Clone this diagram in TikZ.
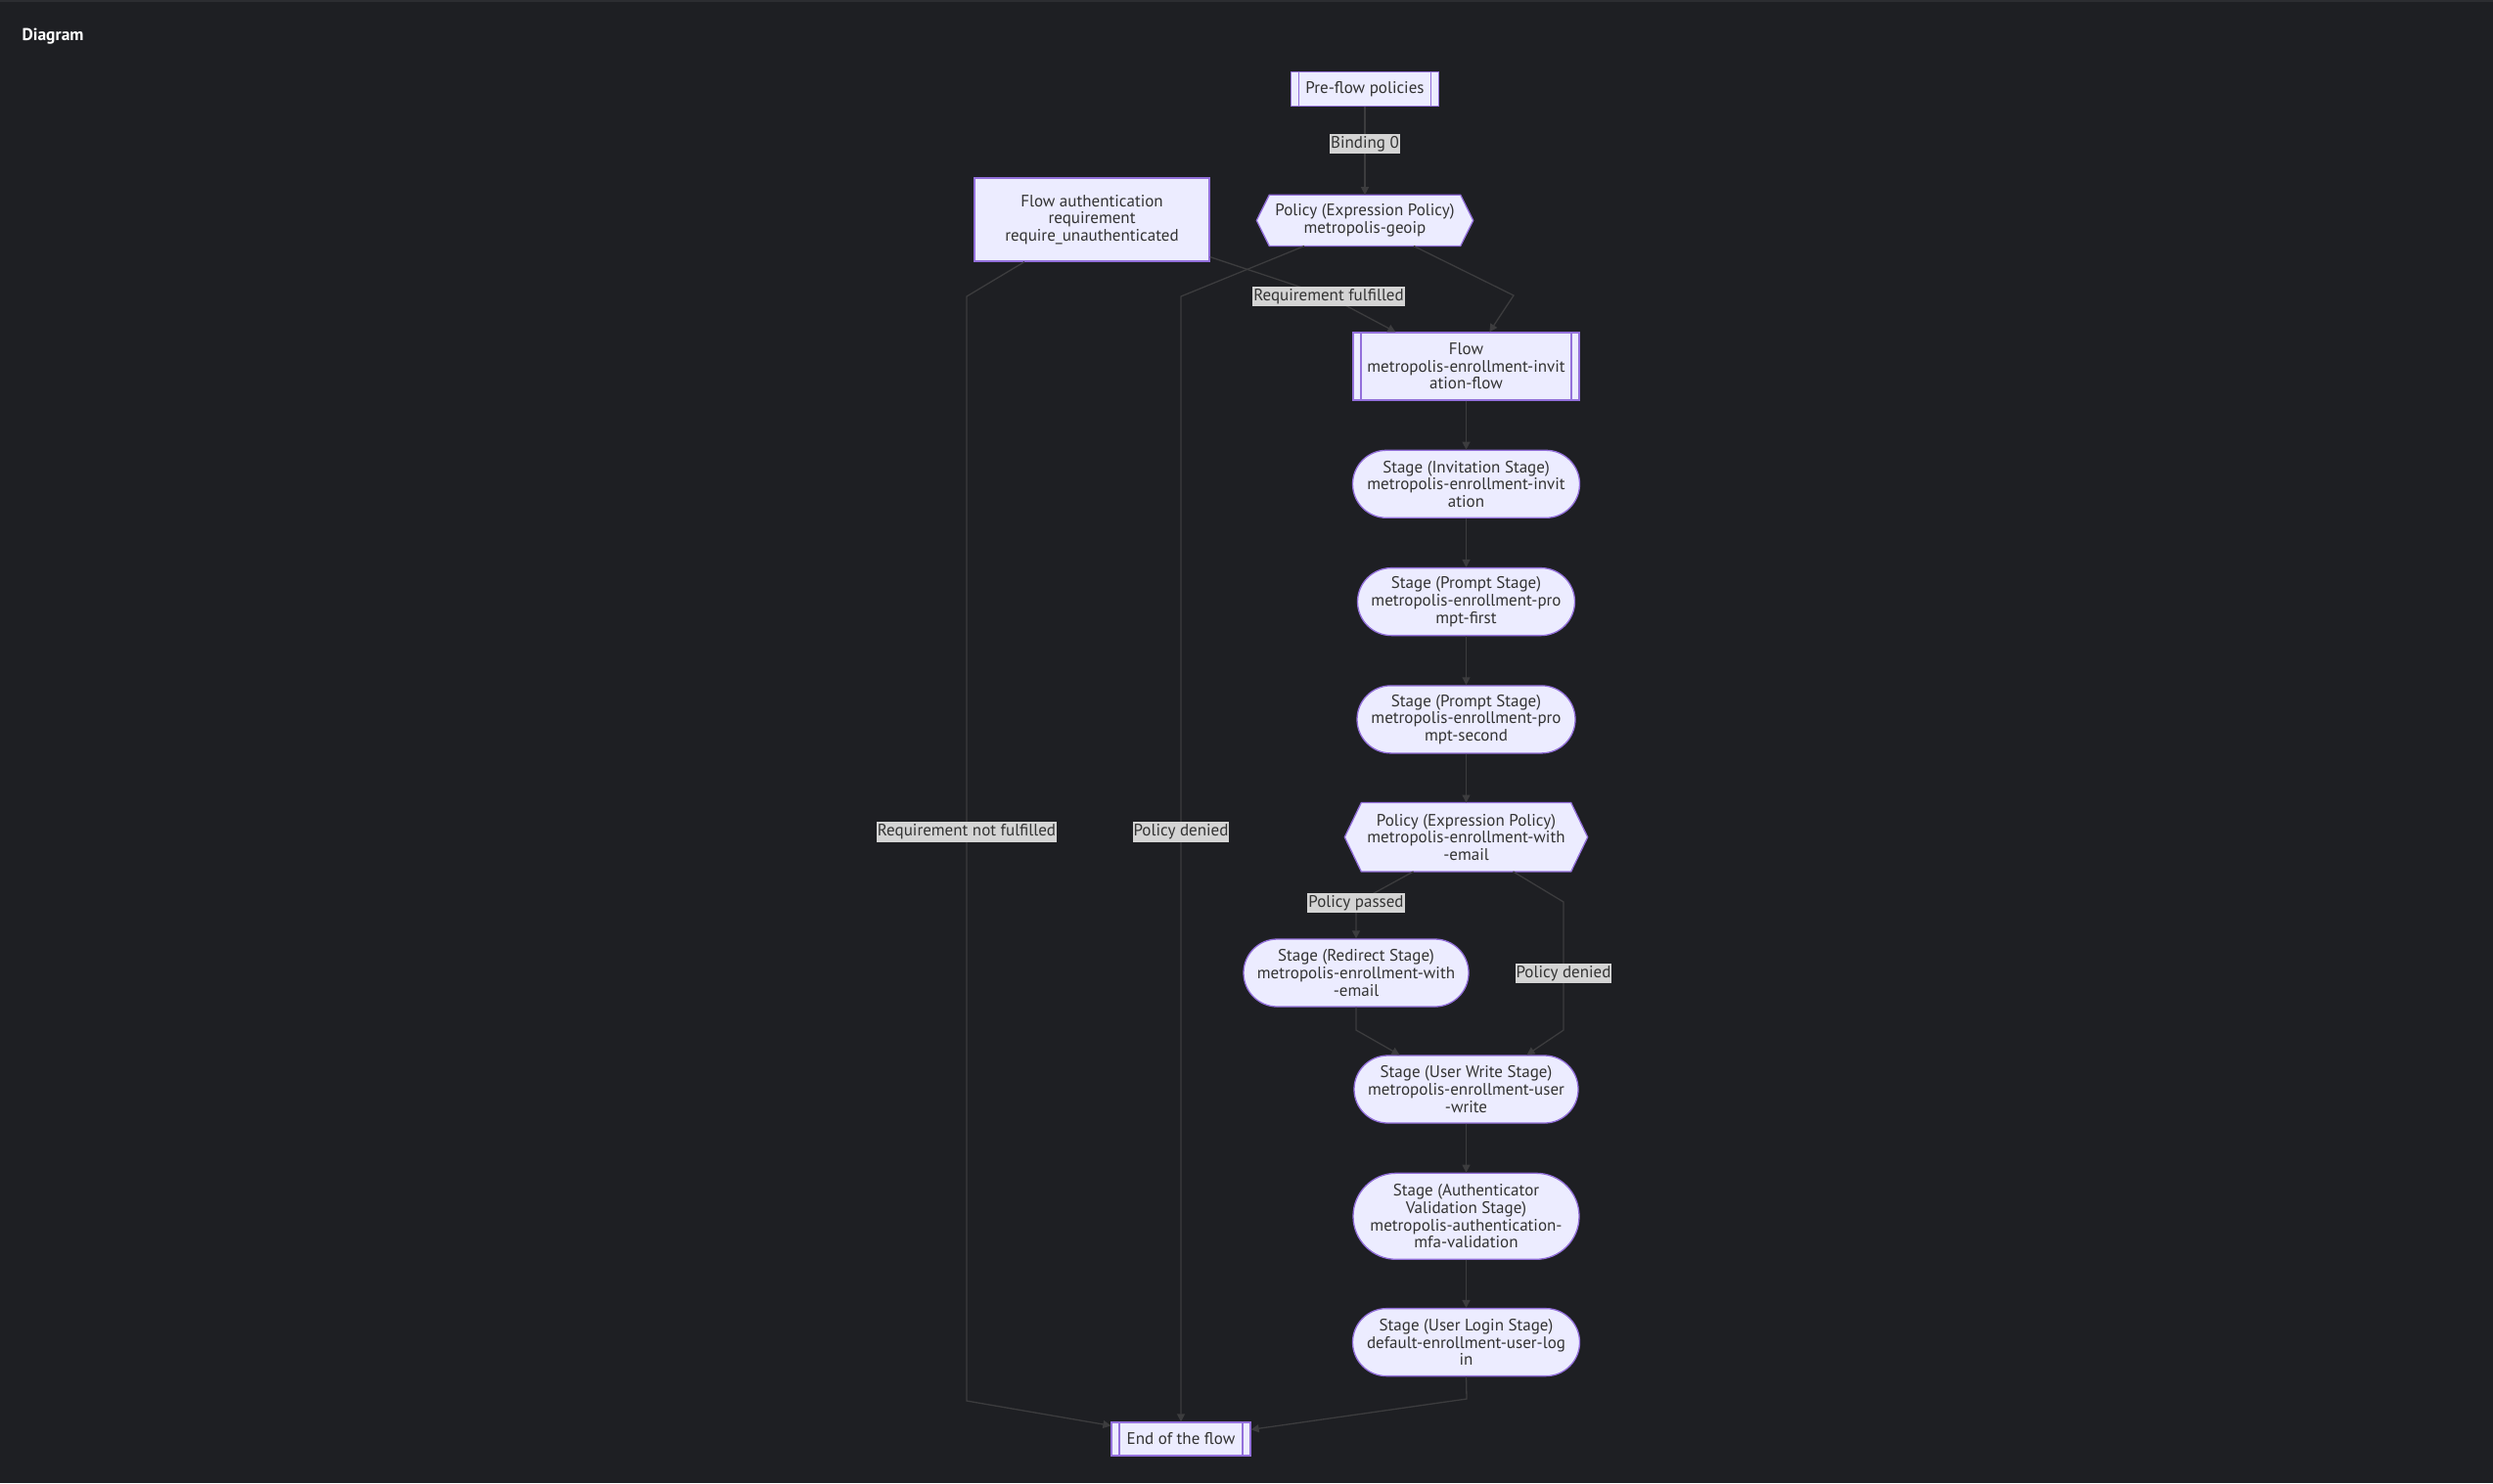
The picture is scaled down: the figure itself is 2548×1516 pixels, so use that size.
\documentclass[tikz,border=0pt]{standalone}
\usepackage{fontspec}
\setmainfont{PT Sans}
\usetikzlibrary{positioning,arrows.meta,backgrounds,calc}
\definecolor{canvas}{HTML}{1E1F23}
\definecolor{stripe}{HTML}{2C2D31}
\definecolor{nodefill}{HTML}{ECECFF}
\definecolor{nodeline}{HTML}{9370DB}
\definecolor{edgeline}{HTML}{3C3C3E}
\definecolor{lblfill}{HTML}{D4D4D4}
\definecolor{ink}{HTML}{333333}

\begin{document}
\begin{tikzpicture}[
      x=1pt, y=-1pt,
      font=\fontsize{17}{17.6}\selectfont, text=ink,
      node distance=50pt,
      box/.style={draw=nodeline, fill=nodefill, line width=1.3pt,
                  align=center, inner sep=0pt},
      subr/.style={box, path picture={
          \draw[nodeline, line width=1.3pt]
            ([xshift=8pt]path picture bounding box.north west) -- ([xshift=8pt]path picture bounding box.south west)
            ([xshift=-8pt]path picture bounding box.north east) -- ([xshift=-8pt]path picture bounding box.south east);}},
      stage/.style={box, rounded corners=34.5pt, minimum height=69pt},
      policy/.style={align=center, inner sep=0pt, minimum height=52pt},
      hexa/.style={draw=nodeline, fill=nodefill, line width=1.3pt},
      flow/.style={-{Triangle[length=8pt,width=8pt]}, edgeline, line width=1.3pt},
      lbl/.style={fill=lblfill, text=ink, inner xsep=1pt, inner ysep=2.5pt}
    ]

    \useasboundingbox (0,0) rectangle (2548,1516);
    \begin{scope}[on background layer]
      \fill[canvas] (0,0) rectangle (2548,1516);
      \fill[stripe] (0,0) rectangle (2548,2);
    \end{scope}

    \node[font=\bfseries\fontsize{17.5}{18}\selectfont, text=white, anchor=west] (title) at (19,37) {Diagram};

    % top of the flow: policies, requirement and the flow itself
    \node[subr, minimum width=151pt, minimum height=35pt] (pre) at (1395,91) {Pre-flow policies};
    \node[policy, minimum width=221pt, below=90pt of pre] (geoip)
      {Policy (Expression Policy)\\metropolis-geoip};
    \node[box, minimum width=240pt, minimum height=85pt] (auth) at (1116,224.5)
      {Flow authentication\\requirement\\require\_unauthenticated};
    \node[subr, minimum width=231pt, minimum height=69pt] (flowref) at (1498.5,374.5)
      {Flow\\metropolis-enrollment-invit\\ation-flow};

    % stage chain
    \node[stage, minimum width=232pt, below=of flowref] (invite)
      {Stage (Invitation Stage)\\metropolis-enrollment-invit\\ation};
    \node[stage, minimum width=222pt, below=of invite] (promptA)
      {Stage (Prompt Stage)\\metropolis-enrollment-pro\\mpt-first};
    \node[stage, minimum width=223pt, below=of promptA] (promptB)
      {Stage (Prompt Stage)\\metropolis-enrollment-pro\\mpt-second};
    \node[policy, minimum width=248pt, minimum height=70pt, below=of promptB] (withmail)
      {Policy (Expression Policy)\\metropolis-enrollment-with\\-email};
    \node[stage, minimum width=230pt] (redirect) at (1386,994.5)
      {Stage (Redirect Stage)\\metropolis-enrollment-with\\-email};
    \node[stage, minimum width=229pt] (userwrite) at (1498.5,1113.5)
      {Stage (User Write Stage)\\metropolis-enrollment-user\\-write};
    \node[stage, minimum width=231pt, minimum height=88pt, rounded corners=44pt, below=of userwrite] (mfa)
      {Stage (Authenticator\\Validation Stage)\\metropolis-authentication-\\mfa-validation};
    \node[stage, minimum width=232pt, below=49pt of mfa] (login)
      {Stage (User Login Stage)\\default-enrollment-user-log\\in};
    \node[subr, minimum width=142pt, minimum height=34pt] (finish) at (1207,1471) {End of the flow};

    % hexagon outlines for the policy nodes
    \begin{scope}[on background layer]
      \foreach \n/\d in {geoip/13, withmail/17}
        \filldraw[hexa] (\n.west) -- ([xshift=\d pt]\n.north west) -- ([xshift=-\d pt]\n.north east)
          -- (\n.east) -- ([xshift=-\d pt]\n.south east) -- ([xshift=\d pt]\n.south west) -- cycle;
    \end{scope}

    % bends of the routed edges
    \coordinate (rfbend) at (1358,303);
    \coordinate (nfA) at (988,303);
    \coordinate (nfB) at (988,1432);
    \coordinate (pdA) at (1207,303);
    \coordinate (ppA) at (1547,302);
    \coordinate (wpA) at (1386,923);
    \coordinate (wdA) at (1598,922);
    \coordinate (wdB) at (1598,1053);
    \coordinate (rdA) at (1386,1053);
    \coordinate (lgA) at (1499,1430);

    \draw[flow] (pre) -- node[lbl, pos=0.42] {Binding 0} (geoip);
    \draw[flow] ([yshift=5pt]auth.south east) -- (rfbend) node[lbl] {Requirement fulfilled}
      -- ([xshift=44pt]flowref.north west);
    \draw[flow] ([xshift=-69pt]auth.south) -- (nfA)
      -- node[lbl, pos=0.485] {Requirement not fulfilled} (nfB) -- ([yshift=-4pt]finish.north west);
    \draw[flow] ([xshift=-62pt]geoip.south) -- (pdA)
      -- node[lbl, pos=0.476] {Policy denied} (finish.north);
    \draw[flow] ([xshift=50pt]geoip.south) -- (ppA) -- ([xshift=140pt]flowref.north west);

    \draw[flow] (flowref) -- (invite);
    \draw[flow] (invite) -- (promptA);
    \draw[flow] (promptA) -- (promptB);
    \draw[flow] (promptB) -- (withmail);

    \draw[flow] ([xshift=-54pt]withmail.south) -- (wpA) node[lbl] {Policy passed} -- (redirect.north);
    \draw[flow] ([xshift=48pt]withmail.south) -- (wdA)
      -- node[lbl, pos=0.557] {Policy denied} (wdB) -- ([xshift=62pt]userwrite.north);
    \draw[flow] (redirect.south) -- (rdA) -- ([xshift=-68pt]userwrite.north);

    \draw[flow] (userwrite) -- (mfa);
    \draw[flow] (mfa) -- (login);
    \draw[flow] (login.south) -- (lgA) -- ([yshift=-8pt]finish.north east);

  \end{tikzpicture}
\end{document}
